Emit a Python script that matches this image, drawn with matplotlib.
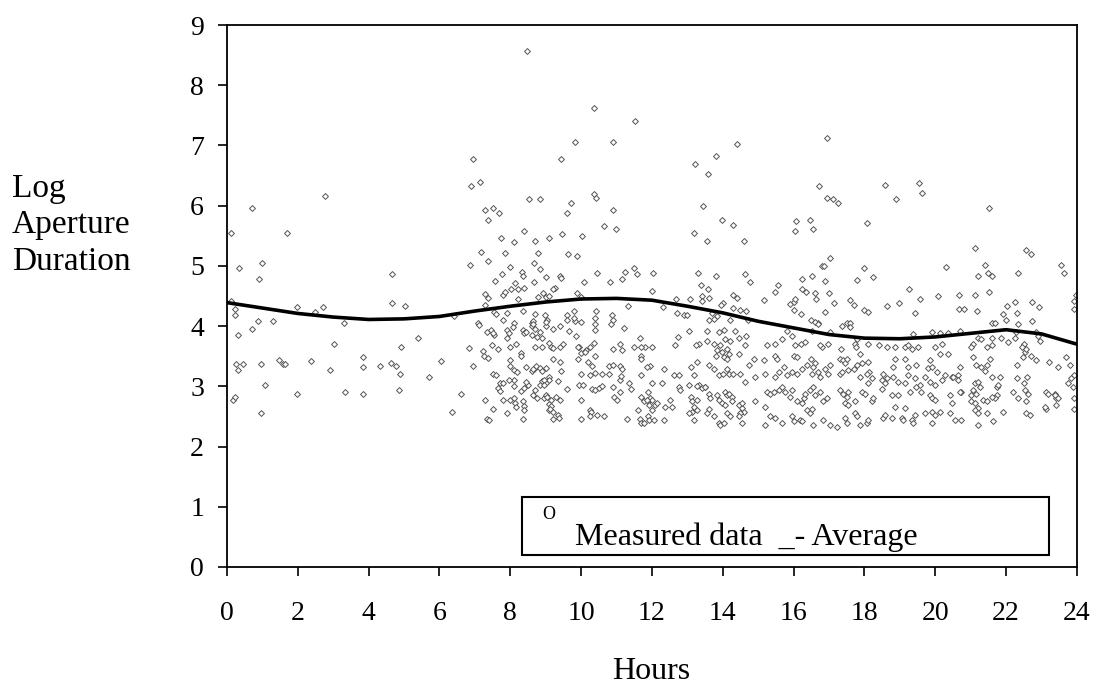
import matplotlib
matplotlib.use("Agg")
import matplotlib.pyplot as plt
from matplotlib.patches import Rectangle
import numpy as np

# (hour, log aperture duration), grouped by time of day
night_pts = [
    (0.12, 5.55), (0.70, 5.96), (1.70, 5.54), (2.77, 6.16), (0.33, 4.96), (0.99, 5.05), (0.91, 4.79),
    (4.67, 4.86), (0.12, 4.41), (1.98, 4.31), (2.49, 4.23), (2.70, 4.31), (4.67, 4.38), (5.04, 4.33),
    (0.24, 4.28), (0.24, 4.19), (0.87, 4.09), (1.29, 4.09), (3.30, 4.05), (6.42, 4.17), (0.70, 3.95),
    (0.31, 3.85), (3.02, 3.71), (5.38, 3.80), (4.92, 3.66), (6.83, 3.63), (0.25, 3.37), (0.46, 3.37),
    (0.30, 3.27), (0.95, 3.37), (1.47, 3.44), (1.57, 3.37), (1.65, 3.37), (2.36, 3.42), (2.90, 3.27),
    (3.85, 3.49), (3.85, 3.32), (4.31, 3.34), (4.63, 3.39), (4.76, 3.34), (4.88, 3.21), (5.70, 3.16),
    (6.04, 3.42), (6.94, 3.34), (1.08, 3.03), (1.99, 2.87), (3.32, 2.90), (3.85, 2.87), (4.85, 2.94),
    (6.61, 2.87), (0.18, 2.77), (0.23, 2.82), (0.95, 2.56), (6.36, 2.58), (6.94, 6.78), (6.90, 6.33),
    (6.85, 5.01),
]

morning_upper = [
    (8.47, 8.56), (10.36, 7.63), (11.53, 7.41), (9.84, 7.06), (10.91, 7.05), (9.42, 6.77), (7.15, 6.40),
    (10.36, 6.20), (10.41, 6.13), (8.52, 6.11), (8.85, 6.11), (9.71, 6.04), (7.28, 5.92), (7.52, 5.96),
    (7.69, 5.87), (7.36, 5.77), (9.59, 5.87), (10.89, 5.92), (8.39, 5.58), (10.65, 5.66), (10.99, 5.61),
    (7.74, 5.46), (8.10, 5.39), (8.70, 5.41), (9.08, 5.46), (9.46, 5.53), (10.03, 5.49), (7.18, 5.23),
    (7.85, 5.22), (8.77, 5.22), (9.63, 5.20), (9.88, 5.17), (7.36, 5.08), (7.98, 4.98), (8.68, 5.05),
    (8.85, 4.94), (11.49, 4.97), (11.58, 4.86), (7.56, 4.75), (7.77, 4.86), (8.14, 4.71), (8.34, 4.90),
    (8.37, 4.84), (8.68, 4.74), (9.01, 4.81), (9.40, 4.83), (9.44, 4.80), (10.08, 4.74), (10.46, 4.88),
    (10.82, 4.73), (11.16, 4.79), (11.25, 4.90), (8.03, 4.62), (8.23, 4.62), (8.39, 4.64), (9.27, 4.64),
    (9.21, 4.62), (7.29, 4.53), (7.38, 4.47), (7.79, 4.51), (7.85, 4.56), (8.21, 4.45), (8.77, 4.49),
    (8.93, 4.55), (9.00, 4.48), (9.10, 4.50), (9.88, 4.55), (9.99, 4.49), (7.29, 4.35), (11.31, 4.33),
    (8.35, 4.25), (7.55, 4.23), (7.60, 4.20), (7.90, 4.21), (8.70, 4.20), (8.98, 4.18), (9.60, 4.19),
    (9.80, 4.25), (10.41, 4.25), (10.88, 4.19), (7.80, 4.10), (8.60, 4.05), (8.65, 4.08), (9.83, 4.09),
    (10.00, 4.07), (10.40, 4.04), (10.85, 4.04), (7.10, 4.05), (8.10, 4.05),
]

morning_lower = [
    (7.12, 4.02), (7.23, 3.59), (7.25, 3.50), (7.37, 3.47), (7.34, 3.90), (7.45, 3.93), (7.55, 3.85),
    (7.50, 3.88), (7.90, 3.93), (7.95, 3.88), (8.07, 3.99), (7.48, 3.68), (7.64, 3.62), (7.90, 3.80),
    (8.00, 3.66), (8.15, 3.70), (8.35, 3.94), (8.40, 3.88), (8.45, 3.90), (8.60, 4.00), (8.70, 3.96),
    (8.65, 4.03), (8.85, 3.90), (9.00, 4.00), (9.05, 4.10), (9.02, 4.06), (9.60, 4.10), (9.80, 4.14),
    (10.40, 4.14), (10.90, 4.10), (9.65, 3.92), (9.85, 3.84), (10.40, 3.93), (11.20, 3.97), (11.66, 3.80),
    (9.20, 3.95), (9.40, 4.00), (8.60, 3.85), (8.75, 3.82), (8.90, 3.80), (9.10, 3.72), (9.15, 3.66),
    (9.20, 3.63), (9.40, 3.66), (9.50, 3.70), (8.70, 3.65), (8.90, 3.65), (8.30, 3.55), (8.30, 3.50),
    (8.00, 3.44), (8.00, 3.34), (8.10, 3.27), (8.20, 3.23), (8.45, 3.32), (8.60, 3.26), (8.70, 3.30),
    (8.72, 3.33), (8.65, 3.28), (8.85, 3.30), (9.00, 3.31), (8.90, 3.25), (9.20, 3.45), (9.40, 3.40),
    (9.42, 3.25), (9.90, 3.45), (9.95, 3.65), (10.00, 3.55), (10.15, 3.60), (10.25, 3.66), (10.35, 3.72),
    (9.90, 3.66), (10.10, 3.57), (10.40, 3.50), (10.30, 3.33), (10.20, 3.40), (10.00, 3.20), (10.25, 3.18),
    (10.40, 3.22), (10.60, 3.20), (10.80, 3.20), (10.80, 3.33), (10.90, 3.36), (11.10, 3.33), (11.15, 3.28),
    (10.90, 3.62), (11.10, 3.70), (11.15, 3.60), (11.50, 3.65), (11.80, 3.65), (11.70, 3.50), (11.70, 3.45),
    (11.70, 3.18), (11.95, 3.33), (11.10, 3.10), (11.12, 3.17), (11.35, 3.06), (11.40, 2.95), (11.10, 2.91),
    (10.90, 2.99), (10.92, 2.83), (11.00, 2.78), (10.30, 2.96), (10.40, 2.94), (10.50, 2.97), (10.60, 3.00),
    (10.00, 2.78), (9.60, 2.95), (9.95, 3.02), (10.05, 3.02), (9.35, 3.08), (9.10, 3.15), (9.08, 3.10),
    (8.90, 3.08), (9.00, 3.05), (8.95, 3.10), (8.85, 3.02), (8.95, 3.02), (8.70, 2.94), (8.30, 2.93),
    (8.40, 2.97), (8.50, 3.02), (8.45, 3.07), (8.10, 3.00), (8.10, 3.10), (7.95, 3.10), (7.70, 3.05),
    (7.80, 3.05), (7.50, 3.20), (7.60, 3.18), (7.65, 2.98), (7.70, 2.93), (7.30, 2.78), (7.80, 2.78),
    (8.00, 2.78), (8.10, 2.80), (8.12, 2.72), (8.15, 2.66), (8.35, 2.75), (8.38, 2.68), (8.40, 2.60),
    (8.35, 2.46), (7.35, 2.46), (7.40, 2.44), (7.50, 2.62), (7.90, 2.55), (8.65, 2.85), (8.75, 2.80),
    (8.95, 2.80), (9.00, 2.85), (9.05, 2.82), (9.15, 2.78), (9.30, 2.83), (9.40, 2.78), (9.10, 2.70),
    (9.15, 2.68), (9.10, 2.60), (9.12, 2.62), (9.20, 2.58), (9.35, 2.52), (9.38, 2.48), (9.20, 2.46),
    (10.00, 2.46), (10.25, 2.60), (10.28, 2.58), (10.25, 2.50), (10.45, 2.52), (10.65, 2.50), (11.30, 2.46),
    (11.60, 2.60), (11.65, 2.45), (11.90, 2.50), (11.95, 2.80), (11.90, 2.75), (12.00, 2.78), (11.90, 2.90),
]

afternoon_upper = [
    (16.94, 7.12), (14.39, 7.03), (13.22, 6.69), (13.80, 6.83), (13.59, 6.52), (16.73, 6.33), (16.94, 6.13),
    (17.10, 6.11), (17.24, 6.04), (18.59, 6.35), (18.88, 6.11), (19.55, 6.38), (19.62, 6.21), (13.44, 6.00),
    (13.97, 5.77), (14.30, 5.68), (13.18, 5.55), (13.55, 5.41), (14.59, 5.41), (16.07, 5.74), (16.04, 5.58),
    (16.45, 5.77), (16.54, 5.61), (18.06, 5.72), (21.53, 5.96), (21.12, 5.30), (22.56, 5.26), (22.71, 5.19),
    (20.29, 4.98), (21.41, 5.01), (21.20, 4.84), (21.50, 4.88), (21.60, 4.84), (22.33, 4.88), (23.56, 5.01),
    (23.64, 4.88), (17.04, 5.13), (16.80, 5.00), (16.85, 4.99), (17.98, 4.96), (18.23, 4.81), (17.80, 4.76),
    (16.90, 4.75), (16.51, 4.83), (16.23, 4.79), (12.03, 4.88), (13.30, 4.88), (13.80, 4.84), (14.63, 4.86),
    (14.77, 4.74), (11.99, 4.59), (13.39, 4.68), (13.59, 4.62), (19.25, 4.62), (20.09, 4.50), (20.66, 4.52),
    (21.12, 4.52), (21.53, 4.56), (19.58, 4.45), (18.97, 4.39), (18.63, 4.33), (19.44, 4.22), (20.66, 4.28),
    (20.80, 4.28), (21.19, 4.25), (22.25, 4.40), (22.72, 4.40), (22.94, 4.31), (22.03, 4.33), (22.32, 4.22),
    (21.90, 4.20), (22.00, 4.10), (21.60, 4.05), (21.70, 4.05), (22.35, 4.04), (22.74, 4.09), (23.96, 4.51),
    (23.93, 4.41), (23.93, 4.28), (15.17, 4.43), (15.56, 4.68), (15.48, 4.57), (16.23, 4.61), (16.35, 4.57),
    (16.60, 4.55), (16.62, 4.45), (17.01, 4.55), (17.13, 4.39), (17.60, 4.43), (17.70, 4.35), (18.00, 4.27),
    (18.10, 4.23), (15.90, 4.37), (16.00, 4.40), (16.05, 4.45), (16.00, 4.26), (16.20, 4.20), (16.90, 4.24),
    (16.50, 4.10), (16.70, 4.05), (17.50, 4.05), (17.60, 4.05), (12.68, 4.45), (13.08, 4.45), (12.32, 4.31),
    (12.70, 4.22), (12.90, 4.19), (13.00, 4.19), (13.40, 4.50), (13.40, 4.41), (13.60, 4.47), (14.00, 4.38),
    (13.95, 4.35), (14.30, 4.51), (14.40, 4.47), (14.30, 4.30), (14.50, 4.27), (14.65, 4.25), (13.70, 4.22),
    (13.85, 4.17), (13.60, 4.10), (13.75, 4.12), (14.20, 4.10), (14.70, 4.10),
]

afternoon_lower = [
    (13.04, 3.92), (12.74, 3.82), (13.56, 3.92), (13.88, 3.90), (14.03, 3.93), (14.35, 3.92), (14.66, 3.84),
    (14.07, 3.79), (14.21, 3.76), (14.45, 3.81), (13.56, 3.76), (13.32, 3.70), (13.74, 3.70), (13.93, 3.68),
    (15.67, 3.79), (15.95, 3.84), (15.81, 3.92), (15.48, 3.70), (16.51, 3.92), (16.60, 4.06), (16.70, 4.03),
    (17.03, 3.90), (17.36, 4.00), (17.60, 3.98), (17.78, 3.79), (17.73, 3.70), (18.11, 3.70), (18.40, 3.68),
    (18.63, 3.65), (18.86, 3.65), (19.14, 3.65), (19.24, 3.68), (19.33, 3.62), (19.50, 3.65), (19.38, 3.87),
    (19.90, 3.90), (20.13, 3.88), (20.37, 3.88), (20.70, 3.92), (20.00, 3.65), (20.20, 3.70), (21.07, 3.70),
    (21.20, 3.81), (21.30, 3.79), (21.45, 3.65), (21.60, 3.68), (21.60, 3.81), (21.87, 3.80), (22.05, 3.73),
    (22.25, 3.81), (22.50, 3.70), (22.45, 3.65), (22.29, 3.90), (22.90, 3.84), (22.95, 3.76), (22.85, 3.90),
    (12.00, 3.65), (11.68, 3.65), (12.66, 3.68), (13.23, 3.68), (13.85, 3.60), (13.98, 3.57), (14.12, 3.62),
    (14.17, 3.54), (14.03, 3.48), (14.12, 3.45), (13.80, 3.51), (14.45, 3.54), (14.64, 3.68), (14.87, 3.46),
    (15.15, 3.43), (15.48, 3.51), (15.53, 3.46), (15.25, 3.68), (16.05, 3.68), (16.20, 3.70), (16.33, 3.73),
    (16.00, 3.51), (16.10, 3.48), (16.50, 3.46), (16.60, 3.38), (16.56, 3.32), (16.80, 3.65), (16.98, 3.70),
    (16.75, 3.68), (17.03, 3.35), (17.30, 3.46), (17.35, 3.62), (17.40, 3.43), (17.45, 3.38), (17.50, 3.46),
    (17.75, 3.65), (17.88, 3.54), (17.92, 3.38), (18.10, 3.40), (18.13, 3.24), (17.78, 3.35), (18.53, 3.21),
    (18.82, 3.32), (18.63, 3.13), (18.86, 3.46), (19.14, 3.46), (19.24, 3.32), (19.47, 3.35), (19.24, 3.18),
    (19.85, 3.43), (19.80, 3.30), (19.90, 3.32), (20.04, 3.24), (20.13, 3.54), (20.37, 3.54), (20.46, 3.16),
    (20.65, 3.18), (20.70, 3.32), (21.07, 3.48), (21.16, 3.35), (21.30, 3.32), (21.40, 3.26), (21.55, 3.46),
    (21.45, 3.35), (21.02, 3.65), (21.60, 3.16), (21.73, 2.99), (21.82, 3.16), (22.30, 3.35), (22.48, 3.48),
    (22.53, 3.57), (22.57, 3.62), (22.70, 3.51), (22.85, 3.43), (23.20, 3.40), (23.47, 3.32), (23.70, 3.48),
    (23.80, 3.35), (23.93, 3.18), (23.13, 2.91), (23.37, 2.88), (23.42, 2.80), (23.13, 2.63), (23.40, 2.69),
    (23.93, 2.80), (23.93, 2.63), (23.75, 3.05), (23.90, 2.99), (23.84, 3.13),
]

afternoon_base = [
    (11.87, 3.32), (12.34, 3.29), (12.62, 3.18), (12.76, 3.18), (13.10, 3.32), (13.18, 3.18), (13.28, 3.40),
    (13.32, 3.02), (13.50, 2.99), (13.60, 3.35), (13.75, 3.29), (13.90, 3.18), (14.00, 3.21), (14.12, 3.29),
    (14.17, 3.21), (14.30, 3.21), (14.50, 3.21), (14.64, 3.07), (14.73, 3.35), (14.92, 3.16), (15.20, 3.21),
    (15.48, 3.16), (15.58, 3.24), (15.72, 3.32), (15.81, 3.18), (15.95, 3.24), (16.10, 3.21), (16.24, 3.29),
    (16.38, 3.35), (16.51, 3.21), (16.70, 3.24), (16.75, 3.16), (16.90, 3.29), (16.98, 3.21), (17.30, 3.21),
    (17.36, 3.24), (17.55, 3.27), (17.70, 3.29), (17.88, 3.16), (18.07, 3.21), (18.11, 3.05), (18.20, 3.13),
    (18.49, 3.10), (18.58, 3.05), (18.82, 3.16), (18.96, 3.07), (19.14, 3.05), (19.42, 3.13), (19.57, 3.02),
    (19.71, 3.16), (19.85, 3.07), (19.99, 3.02), (20.18, 3.10), (20.27, 3.18), (20.50, 3.16), (20.65, 3.10),
    (20.74, 2.91), (21.12, 3.05), (21.21, 3.07), (21.25, 2.99), (21.07, 2.94), (21.02, 2.85), (21.16, 2.88),
    (21.77, 3.02), (21.73, 2.85), (21.68, 2.80), (22.20, 2.91), (22.53, 2.94), (22.62, 2.88), (22.30, 3.13),
    (22.50, 3.05), (22.60, 3.16),
    (11.68, 2.83), (11.77, 2.75), (11.87, 2.77), (11.91, 2.69), (12.10, 2.69), (12.15, 2.72), (12.38, 2.66),
    (12.57, 2.66), (12.52, 2.77), (12.00, 3.05), (12.29, 3.05), (12.76, 2.99), (12.80, 2.94), (13.04, 3.02),
    (13.09, 2.83), (13.28, 3.00), (13.42, 2.97), (13.51, 2.99), (13.28, 2.77), (13.14, 2.75), (13.18, 2.66),
    (13.60, 2.88), (13.65, 2.80), (13.88, 2.77), (13.84, 2.85), (14.07, 2.91), (14.12, 2.85), (14.17, 2.88),
    (14.26, 2.83), (13.98, 2.72), (14.07, 2.69), (14.26, 2.75), (14.45, 2.69), (14.54, 2.64), (14.59, 2.58),
    (14.50, 2.56), (14.54, 2.72), (14.92, 2.75), (15.20, 2.66), (15.25, 2.91), (15.34, 2.88), (15.44, 2.91),
    (15.58, 2.94), (15.67, 2.99), (15.77, 2.91), (15.91, 2.83), (15.95, 2.94), (16.10, 2.75), (16.24, 2.72),
    (16.29, 2.80), (16.33, 2.88), (16.47, 2.94), (16.56, 2.99), (16.61, 2.85), (16.75, 2.91), (16.84, 2.75),
    (16.94, 2.80), (17.30, 2.94), (17.40, 2.88), (17.50, 2.83), (17.55, 2.91), (17.45, 2.72), (17.55, 2.69),
    (17.74, 2.75), (17.92, 2.91), (18.02, 2.88), (18.20, 2.75), (18.25, 2.80), (18.49, 2.96), (18.77, 2.85),
    (18.96, 2.85), (18.86, 2.66), (19.14, 2.64), (19.28, 2.91), (19.47, 2.99), (19.61, 2.91), (19.85, 2.85),
    (19.90, 2.80), (19.99, 2.77), (20.41, 2.85), (20.46, 2.72), (20.70, 2.91), (21.02, 2.75), (21.12, 2.72),
    (21.21, 2.64), (21.35, 2.77), (21.45, 2.75), (21.60, 2.83), (22.34, 2.80), (22.57, 2.75), (23.18, 2.88),
    (23.37, 2.85), (23.47, 2.80),
    (11.68, 2.39), (11.77, 2.39), (11.91, 2.44), (12.05, 2.44), (12.34, 2.44), (12.00, 2.61), (13.14, 2.58),
    (13.28, 2.61), (13.04, 2.55), (13.18, 2.44), (13.56, 2.55), (13.60, 2.63), (13.75, 2.50), (13.88, 2.39),
    (13.93, 2.36), (14.03, 2.39), (14.12, 2.55), (14.21, 2.50), (14.54, 2.39), (14.45, 2.50), (15.20, 2.36),
    (15.34, 2.50), (15.48, 2.47), (15.67, 2.39), (15.95, 2.50), (16.00, 2.42), (16.19, 2.44), (16.38, 2.61),
    (16.47, 2.55), (16.51, 2.63), (16.24, 2.42), (16.56, 2.36), (16.84, 2.44), (17.03, 2.36), (17.22, 2.33),
    (17.45, 2.47), (17.50, 2.39), (17.74, 2.55), (17.78, 2.50), (17.88, 2.36), (18.07, 2.39), (18.11, 2.44),
    (18.53, 2.47), (18.58, 2.53), (18.77, 2.47), (19.05, 2.47), (19.10, 2.44), (19.33, 2.44), (19.38, 2.39),
    (19.42, 2.53), (19.71, 2.55), (19.90, 2.58), (19.99, 2.53), (20.13, 2.58), (19.90, 2.39), (20.41, 2.55),
    (20.55, 2.44), (20.74, 2.44), (21.12, 2.61), (21.21, 2.55), (21.21, 2.36), (21.45, 2.55), (21.63, 2.42),
    (21.91, 2.58), (22.57, 2.55), (22.67, 2.53), (23.10, 2.66),
]

# smoothed average curve
avg_hours = [0, 1, 2, 3, 4, 5, 6, 7, 8, 9, 10, 11, 12, 13, 14, 15, 16, 17, 18, 19, 20, 21, 22, 23, 24]
avg_values = [4.39, 4.30, 4.21, 4.15, 4.11, 4.12, 4.16, 4.25, 4.33, 4.40, 4.45, 4.46, 4.43,
              4.33, 4.22, 4.08, 3.97, 3.86, 3.80, 3.79, 3.82, 3.88, 3.94, 3.87, 3.70]

x_ticks = list(range(0, 25, 2))
y_ticks = list(range(0, 10))

plt.rcParams['font.family'] = ['Liberation Serif', 'DejaVu Serif']

fig = plt.figure(figsize=(10.97, 6.85), dpi=100)
ax = fig.add_axes([0.2069, 0.1723, 0.7748, 0.7912])

pts = np.array(night_pts + morning_upper + morning_lower + afternoon_upper + afternoon_lower + afternoon_base)
ax.scatter(pts[:, 0], pts[:, 1], marker='D', s=9, facecolors='white', edgecolors='#555555',
           linewidths=0.7, zorder=2)

ax.plot(avg_hours, avg_values, color='black', linewidth=2.6, zorder=3)

ax.set_xlim(0, 24)
ax.set_ylim(0, 9)
ax.set_xticks(x_ticks)
ax.set_yticks(y_ticks)
ax.tick_params(direction='out', length=6.5, width=1.2, labelsize=20, colors='black')
ax.tick_params(axis='x', pad=18)
ax.tick_params(axis='y', pad=10)
for s in ax.spines.values():
    s.set_linewidth(1.3)

fig.text(0.594, 1 - 679 / 685, 'Hours', fontsize=23, ha='center', va='baseline')
fig.text(0.011, 1 - 173 / 685, 'Log\nAperture\nDuration', fontsize=24, ha='left', va='top',
         linespacing=1.27)

# legend box drawn by hand to keep the odd original text
ax.add_patch(Rectangle((0.347, 0.022), 0.620, 0.107, transform=ax.transAxes,
                       facecolor='white', edgecolor='black', linewidth=1.5, zorder=4))
ax.text(0.3706, 0.096, 'O', transform=ax.transAxes, fontsize=13, ha='left', va='center', zorder=5)
ax.text(0.4094, 0.0406, 'Measured data  _- Average', transform=ax.transAxes, fontsize=23,
        ha='left', va='baseline', zorder=5)

fig.savefig('out.png', dpi=100)
